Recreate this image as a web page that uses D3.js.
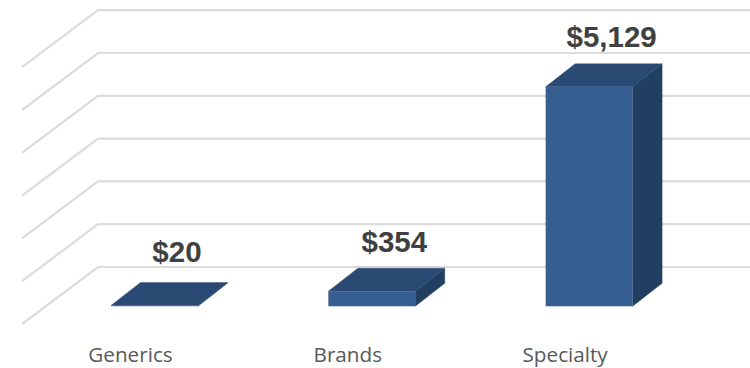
<!DOCTYPE html>
<html>
<head>
<meta charset="utf-8">
<style>
  html, body { margin: 0; padding: 0; background: #fff; }
  svg { display: block; }
</style>
<script src="https://cdn.jsdelivr.net/npm/d3@7/dist/d3.min.js"></script>
</head>
<body>
<svg id="chart" width="750" height="368"></svg>
<script>
// Chart data
const categories = ["Generics", "Brands", "Specialty"];
const values = [20, 354, 5129];
const valueLabels = ["$20", "$354", "$5,129"];
const gridTicks = [0, 1000, 2000, 3000, 4000, 5000, 6000];

const width = 750, height = 368;

// Projection of the 3D box: how far the back wall sits from the front
const wallDx = 76, wallDy = -57;
const wallBackBase = 267;   // back wall floor line
const barBase = 306.3;      // front edge of the bars
const barDx = 29.5, barDy = -23;  // bar depth

const svg = d3.select("#chart");

const x = d3.scaleBand()
  .domain(categories)
  .range([45.8, 697.8])
  .paddingInner(0.6)
  .paddingOuter(0.3);

// Length of a value along the vertical axis
const h = d3.scaleLinear().domain([0, 6000]).range([0, 256.8]);

// Gridlines: the slanted run on the side wall, then along the back wall
const grid = svg.append("g")
  .attr("fill", "none")
  .attr("stroke", "#dcdcdc")
  .attr("stroke-width", 2.2);

const wallLeft = 22, wallRight = 750;
const gridPath = d3.line();
grid.selectAll("path")
  .data(gridTicks)
  .join("path")
  .attr("d", t => {
    const yBack = wallBackBase - h(t);
    return gridPath([
      [wallLeft, yBack - wallDy],
      [wallLeft + wallDx, yBack],
      [wallRight, yBack]
    ]);
  });

// Bars as three faces: side, top, front
const faces = d3.line();
const bars = svg.append("g")
  .selectAll("g")
  .data(categories.map((c, i) => ({ c, v: values[i], label: valueLabels[i] })))
  .join("g");

const corners = d => {
  const x0 = x(d.c), x1 = x0 + x.bandwidth();
  const yTop = barBase - h(d.v);
  return { x0, x1, yTop };
};

bars.append("path")
  .attr("fill", "#213f60")
  .attr("stroke", "#213f60")
  .attr("stroke-width", 0.4)
  .attr("d", d => {
    const { x1, yTop } = corners(d);
    return faces([[x1, yTop], [x1 + barDx, yTop + barDy], [x1 + barDx, barBase + barDy], [x1, barBase]]) + "Z";
  });

bars.append("path")
  .attr("fill", "#2a4a74")
  .attr("stroke", "#2a4a74")
  .attr("stroke-width", 0.4)
  .attr("d", d => {
    const { x0, x1, yTop } = corners(d);
    return faces([[x0, yTop], [x0 + barDx, yTop + barDy], [x1 + barDx, yTop + barDy], [x1, yTop]]) + "Z";
  });

bars.append("path")
  .attr("fill", "#365f91")
  .attr("d", d => {
    const { x0, x1, yTop } = corners(d);
    return faces([[x0, yTop], [x1, yTop], [x1, barBase], [x0, barBase]]) + "Z";
  });

// Value labels above each bar, kept clear of the bar top
bars.append("text")
  .attr("x", d => x(d.c) + x.bandwidth() / 2 + 22.5)
  .attr("y", d => Math.min(barBase - h(d.v) + barDy - 16.5, 262))
  .attr("text-anchor", "middle")
  .attr("font-family", "'Liberation Sans', Arial, sans-serif")
  .attr("font-weight", "bold")
  .attr("font-size", 29.5)
  .attr("fill", "#404040")
  .text(d => d.label);

// Category labels on the floor's front edge
svg.append("g")
  .selectAll("text")
  .data(categories)
  .join("text")
  .attr("x", c => x(c) + x.bandwidth() / 2 - 24)
  .attr("y", 361.5)
  .attr("text-anchor", "middle")
  .attr("font-family", "'Open Sans', 'Noto Sans', sans-serif")
  .attr("font-size", 20.7)
  .attr("fill", "#595959")
  .text(c => c);
</script>
</body>
</html>
